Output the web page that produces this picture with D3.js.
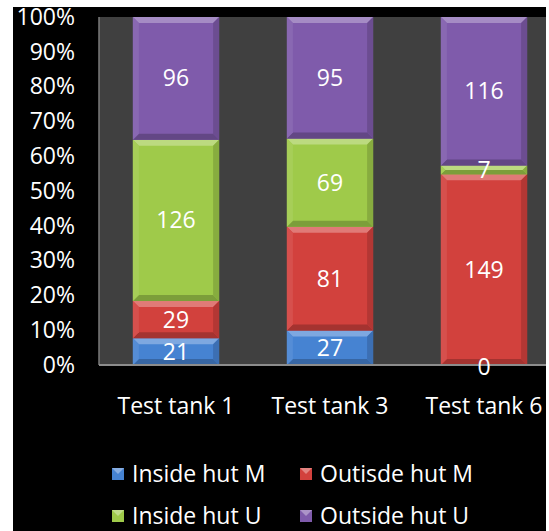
<!DOCTYPE html>
<html><head><meta charset="utf-8">
<script src="https://cdn.jsdelivr.net/npm/d3@7/dist/d3.min.js"></script>
<style>html,body{margin:0;padding:0;background:#fff;overflow:hidden}</style>
</head><body>
<svg id="c" width="549" height="531"></svg>
<script>
const categories = ["Test tank 1", "Test tank 3", "Test tank 6"];
const seriesNames = ["Inside hut M", "Outisde hut M", "Inside hut U", "Outside hut U"];
const insideHutM  = [21, 27, 0];
const outsideHutM = [29, 81, 149];
const insideHutU  = [126, 69, 7];
const outsideHutU = [96, 95, 116];
const yTicks = [0, 0.1, 0.2, 0.3, 0.4, 0.5, 0.6, 0.7, 0.8, 0.9, 1.0];
const colors = ["#4683d2", "#d2413d", "#9fca4a", "#7f5bab"];

(function () {
const seriesValues = [insideHutM, outsideHutM, insideHutU, outsideHutU];
const rows = categories.map((c, i) => {
  const r = {cat: c};
  seriesNames.forEach((s, j) => r[s] = seriesValues[j][i]);
  return r;
});

const svg = d3.select("#c");
const font = "'Open Sans', sans-serif";
const fs = 23;
svg.append("rect").attr("x", 13).attr("y", 7).attr("width", 533).attr("height", 524).attr("fill", "#000");
const pL = 99, pT = 17, pB = 365, pR = 546;
svg.append("rect").attr("x", pL).attr("y", pT).attr("width", pR - pL).attr("height", pB - pT).attr("fill", "#404040");

const x = d3.scaleBand().domain(categories).range([pL, pL + 462]).paddingInner(0.44).paddingOuter(0.22);
const y = d3.scaleLinear().domain([0, 1]).range([pB, pT]);

const stacked = d3.stack().keys(seriesNames).offset(d3.stackOffsetExpand)(rows);

function shade(c, k) {
  return k > 0 ? d3.interpolateRgb(c, "#fff")(k) : d3.interpolateRgb(c, "#000")(-k);
}

svg.append("defs").append("clipPath").attr("id", "pc")
  .append("rect").attr("x", pL).attr("y", 0).attr("width", pR - pL).attr("height", 531);
const plot = svg.append("g").attr("clip-path", "url(#pc)");

stacked.forEach((layer, si) => {
  const col = colors[si];
  layer.forEach((d, i) => {
    const x0 = x(categories[i]), w = x.bandwidth();
    const y0 = y(d[1]), y1 = y(d[0]);
    const h = y1 - y0;
    if (h <= 0) return;
    const b = Math.min(6, h / 2);
    const g = plot.append("g");
    g.append("rect").attr("x", x0).attr("y", y0).attr("width", w).attr("height", h).attr("fill", col);
    g.append("polygon").attr("points", [[x0, y0], [x0 + w, y0], [x0 + w - b, y0 + b], [x0 + b, y0 + b]].join(" ")).attr("fill", shade(col, 0.3));
    g.append("polygon").attr("points", [[x0, y1], [x0 + w, y1], [x0 + w - b, y1 - b], [x0 + b, y1 - b]].join(" ")).attr("fill", shade(col, -0.22));
    g.append("polygon").attr("points", [[x0, y0], [x0 + b, y0 + b], [x0 + b, y1 - b], [x0, y1]].join(" ")).attr("fill", shade(col, 0.08));
    g.append("polygon").attr("points", [[x0 + w, y0], [x0 + w - b, y0 + b], [x0 + w - b, y1 - b], [x0 + w, y1]].join(" ")).attr("fill", shade(col, -0.15));
  });
});

svg.append("line").attr("x1", pL).attr("x2", pL).attr("y1", pT).attr("y2", pB).attr("stroke", "#7a7a7a").attr("stroke-width", 1.5);
svg.append("line").attr("x1", pL).attr("x2", pR).attr("y1", pB).attr("y2", pB).attr("stroke", "#8c8c8c").attr("stroke-width", 2);

stacked.forEach((layer, si) => {
  layer.forEach((d, i) => {
    svg.append("text")
      .attr("x", x(categories[i]) + x.bandwidth() / 2)
      .attr("y", (y(d[0]) + y(d[1])) / 2 + (seriesValues[si][i] === 0 ? 2 : 0))
      .attr("dy", "0.35em")
      .attr("text-anchor", "middle")
      .attr("fill", "#fff").attr("font-family", font).attr("font-size", fs)
      .text(seriesValues[si][i]);
  });
});

const ya = svg.append("g").attr("transform", `translate(${pL},0)`)
  .call(d3.axisLeft(y).tickValues(yTicks).tickFormat(d3.format(".0%")).tickSize(0).tickPadding(24));
ya.select(".domain").remove();
ya.selectAll("text").attr("fill", "#fff").attr("font-family", font).attr("font-size", fs);

const xa = svg.append("g").attr("transform", `translate(0,${pB})`)
  .call(d3.axisBottom(x).tickSize(0).tickPadding(33));
xa.select(".domain").remove();
xa.selectAll("text").attr("fill", "#fff").attr("font-family", font).attr("font-size", fs);

const legPos = [[112, 474], [300, 474], [112, 516], [300, 516]];
seriesNames.forEach((s, i) => {
  const [lx, ly] = legPos[i];
  const g = svg.append("g");
  const c = colors[i];
  g.append("rect").attr("x", lx).attr("y", ly - 6).attr("width", 12).attr("height", 12).attr("fill", c);
  g.append("polygon").attr("points", [[lx, ly - 6], [lx + 12, ly - 6], [lx + 6, ly]].join(" ")).attr("fill", shade(c, 0.35));
  g.append("text").attr("x", lx + 20).attr("y", ly).attr("dy", "0.35em")
    .attr("fill", "#fff").attr("font-family", font).attr("font-size", fs).text(s);
});
})();
</script>
</body></html>
